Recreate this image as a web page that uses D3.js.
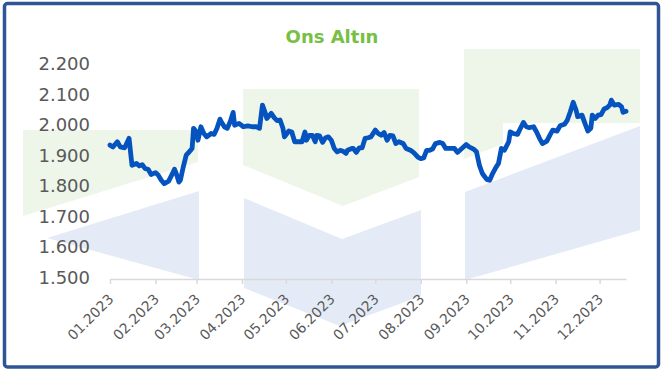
<!DOCTYPE html>
<html>
<head>
<meta charset="utf-8">
<script src="https://cdn.jsdelivr.net/npm/d3@7"></script>
<style>
  body { margin: 0; background: #fff; }
  svg { display: block; }
</style>
</head>
<body>
<svg width="664" height="372"></svg>
<script>
// [day of 2023 (0 = 1 Jan), price in USD]
var goldSeries = [
  [0,1938],[2,1932],[5,1949],[7,1932],[10,1929],[13,1960],[15,1872],[18,1878],[20,1870],[22,1874],
  [24,1861],[26,1859],[28,1842],[31,1848],[33,1839],[35,1823],[37,1812],[40,1820],[42,1839],[44,1859],
  [45,1848],[47,1817],[48,1823],[50,1867],[52,1905],[54,1916],[56,1927],[57,1993],[59,1981],[60,1954],
  [62,1998],[64,1976],[66,1965],[69,1976],[71,1973],[73,1993],[75,2023],[76,2014],[78,1998],[80,1993],
  [82,2014],[84,2045],[85,2003],[88,2009],[91,1998],[94,2001],[97,1998],[100,1998],[102,1993],[104,2069],
  [106,2042],[107,2025],[110,2042],[112,2028],[114,2018],[116,2020],[118,1993],[119,1965],[122,1984],[124,1981],
  [126,1949],[128,1949],[131,1949],[133,1981],[134,1954],[136,1970],[138,1970],[140,1949],[141,1970],[143,1968],
  [145,1947],[147,1962],[149,1965],[151,1954],[153,1927],[155,1916],[157,1921],[159,1918],[161,1911],[162,1921],
  [165,1927],[166,1927],[168,1914],[170,1929],[172,1929],[174,1960],[176,1962],[178,1965],[181,1987],[183,1976],
  [185,1970],[187,1979],[189,1954],[191,1970],[193,1968],[195,1943],[197,1949],[200,1943],[202,1927],[205,1921],
  [207,1914],[210,1899],[212,1894],[214,1896],[216,1921],[218,1921],[220,1925],[222,1943],[225,1947],[227,1943],
  [229,1927],[232,1927],[235,1927],[237,1914],[240,1927],[243,1940],[245,1932],[248,1925],[250,1916],[252,1872],
  [254,1845],[257,1826],[259,1823],[261,1845],[263,1863],[265,1878],[267,1927],[269,1921],[272,1949],[273,1981],
  [275,1976],[278,1973],[280,1993],[282,2012],[284,1998],[286,1995],[289,1998],[291,1981],[293,1960],[295,1943],
  [298,1951],[300,1970],[302,1987],[305,1984],[307,2001],[310,2006],[312,2020],[314,2047],[316,2078],[318,2052],
  [319,2031],[322,2036],[324,2009],[326,1984],[328,1993],[329,2036],[331,2025],[333,2036],[335,2038],[337,2056],
  [339,2060],[341,2069],[342,2085],[344,2069],[347,2071],[349,2063],[350,2045],[352,2049]
];
var monthLabels = ["01.2023","02.2023","03.2023","04.2023","05.2023","06.2023",
                   "07.2023","08.2023","09.2023","10.2023","11.2023","12.2023"];
var yTicks = [1500, 1600, 1700, 1800, 1900, 2000, 2100, 2200];
var title = "Ons Altın";

var svg = d3.select("svg");
var start = new Date(2023, 0, 1);
var toDate = function(d) { return d3.timeDay.offset(start, d); };

var x = d3.scaleTime().domain([start, toDate(352)]).range([110, 626]);
var y = d3.scaleLinear().domain([1500, 2200]).range([279, 65]);
var tr = d3.formatLocale({decimal: ",", thousands: ".", grouping: [3], currency: ["", ""]});
var fmt = tr.format(",");

// frame
svg.append("rect")
  .attr("x", 4.5).attr("y", 3.5).attr("width", 654).attr("height", 363.5)
  .attr("rx", 3)
  .attr("fill", "#fff").attr("stroke", "#2F5597").attr("stroke-width", 3.5);

// faint logo in the background
var green = "#EEF6E9", blue = "#E5EBF6";
var logo = [
  [green, [[23,130],[198,130],[198,162],[23,216]]],
  [blue,  [[47,238],[199,191],[199,280]]],
  [green, [[243,89],[419,89],[419,177],[343,206],[243,165]]],
  [blue,  [[244,198],[342,239],[421,210],[421,296],[340,326],[244,288]]],
  [green, [[464,49],[640,49],[640,123],[503,123],[503,144],[464,159]]],
  [blue,  [[465,192],[640,126],[640,230],[465,280]]]
];
svg.append("g").selectAll("path")
  .data(logo)
  .enter().append("path")
  .attr("d", function(d) { return "M" + d[1].join("L") + "Z"; })
  .attr("fill", function(d) { return d[0]; });

// title
svg.append("text")
  .attr("x", 332).attr("y", 43)
  .attr("text-anchor", "middle")
  .style("font-family", "DejaVu Sans")
  .style("font-weight", "bold")
  .style("font-size", "18px")
  .style("fill", "#77C043")
  .text(title);

// y labels
svg.append("g").selectAll("text")
  .data(yTicks)
  .enter().append("text")
  .attr("x", 90)
  .attr("y", function(d) { return y(d); })
  .attr("dy", "0.28em")
  .attr("text-anchor", "end")
  .style("font-family", "DejaVu Sans")
  .style("font-size", "18px")
  .style("fill", "#595959")
  .text(function(d) { return fmt(d); });

// x axis, month labels turned 45 degrees
var parseM = d3.timeParse("%m.%Y");
var months = monthLabels.map(parseM);
var xAxis = svg.append("g")
  .attr("transform", "translate(0,279)")
  .call(d3.axisBottom(x).tickValues(months).tickSize(5).tickSizeOuter(0)
    .tickFormat(d3.timeFormat("%m.%Y")));
xAxis.select(".domain").attr("stroke", "#D9D9D9").attr("stroke-width", 1.5);
xAxis.selectAll(".tick line").attr("stroke", "#D9D9D9").attr("stroke-width", 1.5);
xAxis.selectAll(".tick text")
  .attr("x", 0).attr("y", 0).attr("dy", 0)
  .attr("text-anchor", "end")
  .attr("transform", "translate(4,21) rotate(-45)")
  .style("font-family", "DejaVu Sans")
  .style("font-size", "14px")
  .style("fill", "#595959");

// line
var line = d3.line()
  .x(function(d) { return x(toDate(d[0])); })
  .y(function(d) { return y(d[1]); });

svg.append("path")
  .datum(goldSeries)
  .attr("d", line)
  .attr("fill", "none")
  .attr("stroke", "#0553BF")
  .attr("stroke-width", 4.8)
  .attr("stroke-linejoin", "round")
  .attr("stroke-linecap", "round");
</script>
</body>
</html>
